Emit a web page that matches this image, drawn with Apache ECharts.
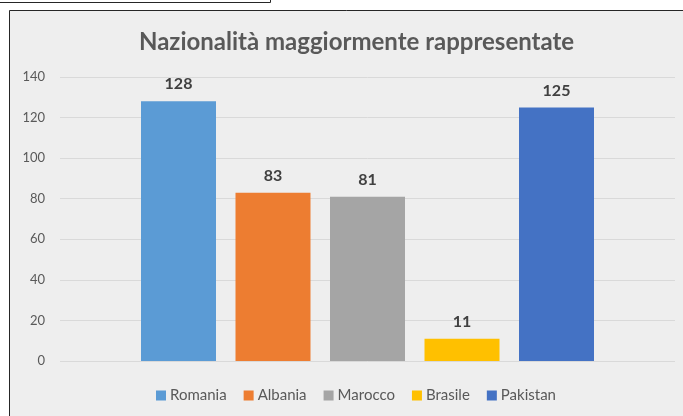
<!DOCTYPE html>
<html>
<head>
<meta charset="utf-8">
<script src="https://cdn.jsdelivr.net/npm/echarts@6/dist/echarts.min.js"></script>
<style>
  html, body { margin: 0; padding: 0; background: #fff; }
  #chart { width: 683px; height: 416px; }
</style>
</head>
<body>
<div id="chart"></div>
<script>
// dati
var categories = [''];
var seriesNames = ['Romania', 'Albania', 'Marocco', 'Brasile', 'Pakistan'];
var seriesValues = [128, 83, 81, 11, 125];
var seriesColors = ['#5b9bd5', '#ed7d31', '#a5a5a5', '#ffc000', '#4472c4'];
var yTicks = [0, 20, 40, 60, 80, 100, 120, 140];

var font = 'Lato, "Open Sans", sans-serif';

var myChart = echarts.init(document.getElementById('chart'));

var series = seriesNames.map(function (name, i) {
    return {
        name: name,
        type: 'bar',
        barWidth: 75,
        barGap: '26%',
        itemStyle: { color: seriesColors[i] },
        label: {
            show: true,
            position: 'top',
            distance: 9,
            color: '#404040',
            fontFamily: font,
            fontWeight: 'bold',
            fontSize: 16
        },
        data: [seriesValues[i]]
    };
});

var option = {
    backgroundColor: '#ffffff',
    animation: false,
    graphic: [
        {
            // riquadro del grafico
            type: 'rect',
            z: -10,
            shape: { x: 9.5, y: 10.5, width: 680, height: 410 },
            style: { fill: '#eeeeee', stroke: '#262626', lineWidth: 1 }
        },
        {
            type: 'polyline',
            z: -10,
            shape: { points: [[0, 2.5], [270.5, 2.5], [270.5, 0]] },
            style: { fill: null, stroke: '#262626', lineWidth: 1 }
        }
    ],
    title: {
        text: 'Nazionalità maggiormente rappresentate',
        left: 134,
        top: 25,
        textStyle: {
            fontFamily: font,
            fontSize: 24,
            fontWeight: 'bold',
            color: '#595959'
        }
    },
    legend: {
        data: seriesNames,
        bottom: 8,
        left: 151,
        itemWidth: 10,
        itemHeight: 10,
        itemGap: 17,
        icon: 'rect',
        textStyle: { fontFamily: font, fontSize: 15, color: '#595959', padding: [0, 0, 0, -1] }
    },
    grid: { left: 60, right: 8, top: 77, bottom: 55 },
    xAxis: {
        type: 'category',
        data: categories,
        axisLine: { show: false },
        axisTick: { show: false },
        axisLabel: { show: false }
    },
    yAxis: {
        type: 'value',
        min: yTicks[0],
        max: yTicks[yTicks.length - 1],
        interval: 20,
        axisLabel: { fontFamily: font, fontSize: 13, color: '#595959', margin: 15 },
        splitLine: { lineStyle: { color: '#d9d9d9', width: 1 } },
        axisLine: { show: false },
        axisTick: { show: false }
    },
    series: series
};

myChart.setOption(option);
</script>
</body>
</html>
